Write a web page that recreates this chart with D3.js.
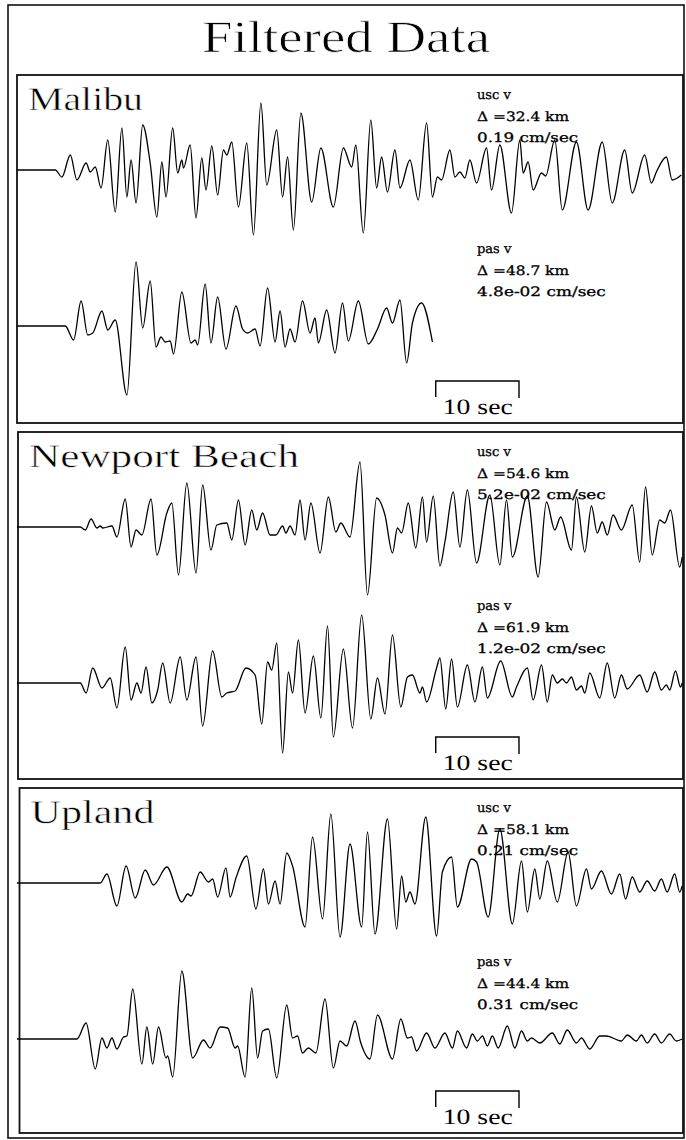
<!DOCTYPE html>
<html>
<head>
<meta charset="utf-8">
<script src="https://cdn.jsdelivr.net/npm/d3@7"></script>
<style>
	body { margin: 0; background: #fff; }
	svg { display: block; }
	text { text-rendering: geometricPrecision; }
</style>
</head>
<body>
<svg></svg>
<script>
const size = { w: 686, h: 1140 };
const svg = d3.select("svg");
svg.attr("width", size.w).attr("height", size.h);

// station info
const title = "Filtered Data";
const stations = ["Malibu", "Newport Beach", "Upland"];
const components = ["usc v", "pas v"];
const distances = [[32.4, 48.7], [54.6, 61.9], [58.1, 44.4]];
const peakVel = [["0.19", "4.8e-02"], ["5.2e-02", "1.2e-02"], ["0.21", "0.31"]];
const scaleBarSec = 10;
const scaleBarStart = 50.3; // sec

// traces: [time (sec), relative amplitude]
const malibuUsc = [[0,0],[4.6,0],[5.4,-14],[6.4,30],[7.2,-20],[8.3,14],[8.8,-4],[9.4,6],[10.1,-36],[10.9,60],[11.8,-84],[12.6,84],[13.2,-54],[13.7,20],[14.3,-66],[15.1,90],[16.0,14],[16.8,-94],[17.4,16],[17.9,-54],[18.7,84],[19.3,-6],[19.8,20],[20.0,4],[20.8,50],[21.5,-96],[22.2,24],[22.7,-40],[23.4,48],[24.1,-50],[24.8,40],[25.2,30],[25.8,56],[26.6,-74],[27.6,54],[28.4,-130],[29.3,134],[30.0,-30],[31.2,80],[31.9,-54],[32.5,26],[33.2,-120],[34.1,114],[35.4,-64],[36.5,44],[38.0,-74],[39.2,44],[40.2,6],[40.7,50],[41.6,-126],[42.5,100],[43.2,-36],[43.8,26],[44.5,-44],[45.4,40],[46.0,-36],[47.2,20],[48.2,-60],[49.2,94],[49.9,-54],[50.5,-14],[51.0,-20],[52.0,40],[52.6,-14],[53.2,-4],[53.8,-16],[54.4,20],[55.2,-26],[56.4,44],[57.0,-40],[58.0,50],[59.4,-86],[60.4,60],[60.8,-6],[61.4,16],[62.0,-40],[63.0,-6],[63.5,-12],[64.6,60],[65.5,-80],[67.2,56],[68.6,-80],[70.3,56],[71.5,-66],[73.0,40],[73.9,-46],[75.4,30],[76.2,-26],[76.8,-4],[78.0,26],[78.7,-20],[79.8,-10]];
const malibuPas = [[0,0],[5.8,0],[6.8,-28],[7.7,50],[8.5,-18],[9.1,-14],[10.2,30],[10.9,-8],[11.8,12],[13.2,-138],[14.3,128],[15.1,-4],[16.0,90],[16.7,-42],[17.3,-22],[17.8,-32],[18.4,-30],[18.8,-56],[19.8,68],[20.9,-34],[21.4,-28],[21.7,-38],[22.6,84],[23.3,-34],[24.1,58],[25.1,-46],[26.3,40],[27.1,-6],[27.7,-14],[28.6,-6],[29.2,-40],[30.1,76],[31.0,-32],[31.6,30],[32.2,-42],[32.8,-6],[33.4,-32],[34.3,50],[35.2,-14],[35.8,16],[36.2,-34],[37.2,32],[38.2,-54],[39.1,46],[39.8,-30],[41.0,50],[42.2,-36],[43.3,-6],[44.4,36],[45.1,6],[46.0,52],[46.8,-74],[47.5,6],[48.6,46],[49.9,-32]];
const newportUsc = [[0,0],[7.6,0],[8.2,-6],[8.9,16],[9.6,-2],[10.0,2],[10.3,-2],[11.4,2],[12.0,-20],[13.0,56],[13.7,-40],[14.3,-6],[15.0,-16],[16.1,56],[16.8,-56],[18.0,28],[18.6,48],[19.4,-96],[20.4,88],[21.5,-92],[22.3,84],[23.3,-46],[24.0,4],[25.2,8],[25.8,-26],[26.6,54],[27.4,-36],[28.2,34],[28.8,-6],[29.5,28],[30.4,-16],[31.1,-16],[31.9,2],[32.3,-12],[32.8,2],[33.4,-16],[34.0,54],[34.6,-26],[35.3,48],[36.4,-52],[37.4,60],[38.3,-10],[38.9,8],[40.0,-20],[41.2,130],[42.1,-136],[43.2,58],[44.2,24],[45.1,-52],[45.7,-2],[46.2,-12],[47.0,48],[47.9,-42],[48.7,60],[49.2,-30],[50.0,62],[50.8,-78],[51.4,-30],[52.4,70],[53.2,-40],[54.1,74],[55.2,-72],[56.8,64],[58.0,-76],[58.8,54],[59.5,-60],[61.3,62],[62.6,-100],[63.6,50],[64.6,-6],[65.3,20],[66.6,-46],[67.2,60],[68.2,-50],[69.0,42],[69.7,-12],[70.3,10],[70.9,-16],[71.6,24],[72.6,-6],[73.9,44],[74.8,-70],[75.5,80],[76.3,-56],[77.2,14],[77.8,8],[78.5,34],[79.6,-80],[79.9,-60]];
const newportPas = [[0,0],[7.6,0],[8.3,-20],[9.1,30],[10.2,-10],[11.2,10],[12.0,-50],[13.0,72],[13.7,-34],[14.4,0],[14.9,-20],[15.5,32],[16.2,-40],[16.9,-14],[17.5,40],[18.4,-40],[19.6,52],[20.4,-34],[21.5,52],[22.3,-86],[23.5,64],[24.6,-28],[25.2,-20],[26.2,-16],[27.5,30],[28.6,16],[29.4,-82],[30.1,42],[30.6,26],[31.2,80],[31.9,-140],[32.6,22],[33.1,-20],[33.8,86],[34.6,-60],[35.6,54],[36.5,-70],[37.3,114],[38.0,-108],[39.2,68],[40.3,-90],[41.4,136],[42.5,-72],[43.3,10],[44.2,-62],[45.1,96],[46.1,-48],[46.9,12],[47.5,16],[48.4,-20],[48.7,-8],[49.2,-38],[50.4,30],[50.8,50],[51.5,-52],[52.2,48],[52.9,-48],[54.1,36],[55.0,-38],[55.9,32],[56.5,-30],[58.1,44],[59.5,-28],[60.0,-8],[61.3,30],[62.0,-34],[63.0,36],[63.7,-38],[64.3,16],[64.9,0],[65.5,8],[66.0,0],[66.6,12],[67.2,-14],[67.8,-6],[68.2,-20],[68.8,20],[70.0,-30],[70.9,40],[71.8,-30],[72.6,16],[73.3,-12],[74.8,16],[75.7,-18],[76.6,22],[77.4,-14],[78.0,-4],[78.4,-14],[79.1,24],[79.7,-8],[79.9,0]];
const uplandUsc = [[0,0],[10.0,0],[10.8,18],[12.0,-46],[13.1,34],[14.2,-30],[15.4,26],[16.4,-4],[18.0,32],[19.8,-38],[20.5,-22],[20.9,-26],[22.0,22],[23.0,2],[23.5,8],[24.1,-28],[25.1,30],[25.6,-28],[26.3,10],[27.6,54],[28.7,-52],[29.6,28],[30.2,-42],[31.0,4],[31.6,-42],[32.4,60],[33.1,34],[34.6,-88],[35.5,92],[36.7,-72],[37.7,138],[38.8,-108],[40.0,78],[41.4,-88],[42.1,102],[43.0,-102],[44.5,128],[45.6,-92],[46.2,14],[46.7,-38],[47.2,-18],[47.8,-42],[49.1,132],[50.4,-106],[51.1,22],[52.2,52],[52.9,-48],[54.6,48],[55.2,42],[56.6,-68],[58.0,108],[59.5,-82],[60.6,44],[61.3,-58],[62.2,28],[62.8,-32],[63.7,44],[64.9,-38],[66.2,62],[67.2,-46],[68.4,28],[69.0,-12],[70.2,24],[71.4,-22],[72.4,18],[73.1,-32],[73.9,12],[74.8,-18],[75.7,4],[76.6,-16],[77.4,8],[78.1,-18],[79.0,18],[79.6,-18],[79.9,-6]];
const uplandPas = [[0,0],[7.2,0],[8.3,32],[9.4,-60],[10.2,2],[10.8,-18],[11.4,2],[12.0,-20],[12.8,4],[13.2,6],[13.9,100],[15.0,-50],[15.6,24],[16.3,-50],[17.0,24],[17.9,-38],[18.1,-34],[18.7,-76],[19.8,136],[21.1,-38],[22.4,-2],[23.2,-18],[24.4,24],[25.3,22],[26.2,-18],[26.5,-14],[27.4,-76],[28.2,102],[28.9,-38],[29.5,16],[30.2,20],[31.2,-78],[32.4,68],[33.1,2],[33.7,6],[34.3,-28],[35.0,-18],[35.9,-28],[37.0,80],[38.0,-58],[38.8,-4],[39.6,-14],[40.6,36],[41.3,-8],[42.4,-40],[43.3,48],[45.1,-40],[46.1,40],[46.9,2],[47.4,4],[48.0,-24],[49.2,12],[50.2,-18],[51.4,12],[52.3,-18],[52.9,16],[54.0,-18],[54.7,10],[55.3,-4],[55.9,6],[56.5,-14],[57.1,6],[57.8,-18],[58.9,26],[59.8,-18],[60.6,16],[61.3,-4],[61.8,2],[62.8,-8],[64.3,12],[65.2,-10],[66.1,18],[67.2,-8],[67.8,2],[68.8,-20],[70.0,6],[70.8,6],[72.6,-4],[73.3,8],[74.4,-4],[75.0,8],[75.7,-8],[76.6,10],[77.4,-8],[78.4,10],[79.2,-4],[79.9,0]];

const traces = [[malibuUsc, malibuPas], [newportUsc, newportPas], [uplandUsc, uplandPas]];

// layout
const panels = [
	{ top: 75, bottom: 423, left: 17 },
	{ top: 432, bottom: 779, left: 18 },
	{ top: 788, bottom: 1133, left: 19.5 },
];
const right = 683;
const traceOffset = [95, 251]; // baseline below panel top
const textOffset = [24, 178];
const ampPx = 50; // px for 100 units

const x = d3.scaleLinear().domain([0, 80]).range([17, right]);

// thin plotter-like lettering: white stroke eats into the glyphs
function thinText(sel, w) {
	return sel.attr("stroke", "#fff").attr("stroke-width", w).attr("paint-order", "fill");
}

// page frame
svg.append("rect")
	.attr("x", 8).attr("y", 5)
	.attr("width", 676).attr("height", 1133)
	.attr("fill", "none").attr("stroke", "#111").attr("stroke-width", 1.6);

thinText(svg.append("text")
	.attr("x", 202).attr("y", 52)
	.attr("textLength", 288).attr("lengthAdjust", "spacingAndGlyphs")
	.style("font-family", "Liberation Serif").style("font-size", "45px")
	.text(title), 0.7);

panels.forEach(function (p, i) {
	let g = svg.append("g").classed("panel", true);

	g.append("rect")
		.attr("x", p.left).attr("y", p.top)
		.attr("width", right - p.left).attr("height", p.bottom - p.top)
		.attr("fill", "none").attr("stroke", "#111").attr("stroke-width", 1.8);

	thinText(g.append("text")
		.attr("x", p.left + 11).attr("y", p.top + 35)
		.attr("textLength", [115, 270, 124][i]).attr("lengthAdjust", "spacingAndGlyphs")
		.style("font-family", "Liberation Serif").style("font-size", "33px")
		.text(stations[i]), 0.5);

	components.forEach(function (comp, j) {
		let base = p.top + traceOffset[j];
		let y = d3.scaleLinear().domain([-100, 100]).range([base + ampPx, base - ampPx]);
		let line = d3.line()
			.x((d) => x(d[0]))
			.y((d) => y(d[1]))
			.curve(d3.curveMonotoneX);

		g.append("path")
			.datum(traces[i][j])
			.attr("d", line)
			.attr("fill", "none").attr("stroke", "#000").attr("stroke-width", 1.3);

		let lines = [comp, "\u0394 =" + distances[i][j] + " km", peakVel[i][j] + " cm/sec"];
		let ty = p.top + textOffset[j];
		lines.forEach(function (s, k) {
			let t = g.append("text")
				.attr("x", 477).attr("y", ty + k * 21.5)
				.attr("stroke", "#000").attr("stroke-width", 0.3)
				.style("font-family", "DejaVu Serif").style("font-size", "13px")
				.text(s);
			if (k > 0) t.attr("textLength", s.length * 9.2).attr("lengthAdjust", "spacingAndGlyphs");
		});
	});

	// 10 sec bar
	let x0 = x(scaleBarStart), x1 = x(scaleBarStart + scaleBarSec);
	let by = p.bottom - 42;
	g.append("path")
		.attr("d", `M${x0},${by + 16}V${by}H${x1}V${by + 17}`)
		.attr("fill", "none").attr("stroke", "#000").attr("stroke-width", 1.4);
	g.append("text")
		.attr("x", x0 + 7).attr("y", p.bottom - 9)
		.attr("textLength", 70).attr("lengthAdjust", "spacingAndGlyphs")
		.style("font-family", "Liberation Serif").style("font-size", "22px")
		.text(scaleBarSec + " sec");
});
</script>
</body>
</html>
